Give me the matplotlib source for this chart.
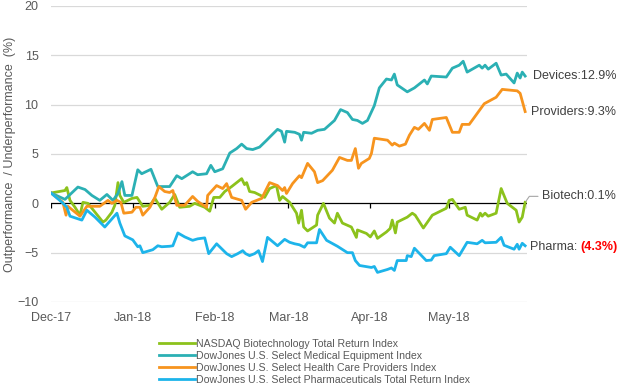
import numpy as np
import pandas as pd
import matplotlib
matplotlib.use("Agg")
import matplotlib.pyplot as plt

plt.rcParams['font.family'] = ['Liberation Sans', 'DejaVu Sans']

# days since 2017-12-01
biotech_days = [0, 5.3, 6, 7.2, 9.1, 11, 12.1, 14, 16.7, 19.7, 20.8, 23.1, 24.2, 25.4, 26.1, 27.6,
                30.7, 32.6, 34.8, 37.5, 39.4, 42, 45, 46.9, 48.8, 52.6, 54.5, 58.3, 60.2, 61.7,
                64, 65.9, 68.5, 70.4, 72.3, 73.4, 74.2, 75.3, 77.2, 81, 82.9, 85.5, 86.7, 87.8,
                90.5, 93.1, 93.9, 95, 95.8, 97.3, 100.7, 101.1, 103.3, 105.6, 107.5, 108.6,
                110.5, 113.9, 115.8, 116.2, 119.6, 121.1, 122.6, 123.8, 127.2, 128.6, 129.4,
                130.6, 131.3, 135.1, 137, 138.1, 141.2, 144.6, 149.9, 151, 152.2, 154.8, 157.1,
                157.8, 161.6, 162.8, 163.5, 164.6, 165.8, 168.8, 170.7, 173, 176.4, 177.5,
                178.7, 179.8]
biotech = [1.05, 1.3, 1.6, 0.3, -0.4, -1.2, 0.1, 0, -0.9, -1.9, -1.7, -0.9, -0.2, 2.1, 0.8, 0.1,
           0.5, 0.6, -0.3, -0.2, 0.5, -0.6, 0.1, 0.9, -0.4, -0.3, 0, -0.4, -0.8, 0.6,
           0.6, 1.2, 1.7, 2.1, 2.5, 1.9, 2.1, 1.2, 1.1, 0.6, 1.5, 1.8, 0.3, 0.7,
           0.1, -1.0, -2.0, -0.7, -2.4, -2.8, -2.2, -1.2, 0, -1.5, -2.0, -1.0,
           -2.0, -2.4, -3.45, -2.7, -3.05, -3.4, -2.8, -3.55, -2.9, -2.55, -1.7,
           -3.0, -1.9, -1.4, -1.0, -1.2, -2.5, -1.2, -0.5, 0.3, 0.4, -0.6, -0.4,
           -1.2, -1.7, -1.0, -1.3, -1.0, -1.3, -1.0, 1.5, 0, -0.7, -1.9,
           -1.4, 0.1]

devices_days = [0, 5.3, 10.2, 12.9, 15.5, 18.5, 21.2, 23.5, 25.4, 26.9, 28, 30.7, 32.9, 34.4,
                37.9, 40.5, 45, 47.7, 49.6, 53.7, 55.6, 59, 60.6, 62.1, 65.1, 67.8, 70.4, 72.3,
                74.2, 76.5, 79.1, 81.8, 82.9, 85.9, 87.4, 88.6, 89.3, 92.4, 94.2, 95, 95.8,
                98.8, 101.1, 103.7, 107.5, 109.8, 112.4, 114.3, 116.2, 118.1, 120, 122.6,
                124.5, 127.2, 129.1, 130.2, 131.3, 135.1, 137.8, 141.6, 142.7, 144.2, 149.9,
                152.2, 154.8, 156.3, 157.8, 162.4, 163.5, 164.6, 165.8, 168.8, 170.7, 172.6,
                175.6, 176.8, 177.9, 178.7, 179.8]
devices = [1.05, 0.4, 1.65, 1.4, 0.8, 0.3, 0.9, 0.3, 1.0, 2.2, 0.8, 0.8, 3.4, 3.0,
           3.45, 1.7, 1.7, 2.8, 2.5, 3.2, 2.9, 3.0, 3.85, 3.2, 3.5, 5.1, 5.55, 6.0,
           5.55, 5.45, 5.7, 6.4, 6.7, 7.5, 7.3, 6.2, 7.3, 7.2, 7.0, 6.4, 7.2,
           7.1, 7.4, 7.5, 8.4, 9.5, 9.2, 8.5, 8.4, 8.1, 8.4, 9.9,
           11.7, 12.6, 12.5, 13.1, 12.0, 11.3, 11.7, 12.5, 12.1, 12.9, 12.8,
           13.7, 14.0, 14.4, 13.3, 14.0, 13.7, 14.0, 13.6, 14.2, 13.0, 13.1,
           12.2, 13.2, 12.7, 13.3, 12.9]

providers_days = [0, 4.5, 5.7, 6.4, 11, 13.6, 18.5, 21.6, 23.1, 25, 26.5, 27.6, 30.7, 32.2,
                  33.7, 34.8, 37.5, 39.4, 40.9, 43.1, 45, 46.2, 47.7, 50.7, 53.7, 55.6, 59,
                  59.4, 62.8, 65.1, 66.6, 68.5, 72.3, 73.8, 76.1, 79.9, 82.9, 85.9, 87.8,
                  88.6, 89.3, 91.6, 94.2, 95, 97.3, 99.9, 101.1, 103, 106.7, 109.4, 112.4,
                  113.9, 115.4, 116.6, 117.7, 120.7, 121.5, 122.6, 127.6, 129.4, 130.2,
                  132.1, 134.4, 135.9, 137.8, 139.3, 141.6, 143.5, 144.6, 149.9, 152.2,
                  154.8, 155.9, 158.6, 162.4, 164.3, 168.8, 171.1, 176.8, 177.9, 179.8]
providers = [1.05, 0.1, -1.2, -0.3, -1.3, -0.3, -0.3, 0.3, 0, 0.3, 0.1, -1.0, -0.9, -0.4,
             -0.4, -1.2, -0.4, 0.6, 1.7, 1.2, 1.1, 1.3, -0.2, -0.2, 0.7, 0.2, -0.4,
             0.8, 1.8, 1.5, 2.0, 0.6, 0.3, -0.6, 0.1, 0.5, 2.1, 1.8, 1.3,
             1.6, 1.0, 2.0, 2.8, 2.6, 4.05, 3.2, 2.1, 2.3, 3.35, 4.65, 4.35,
             4.35, 5.55, 3.55, 4.05, 4.55, 5.05, 6.6, 6.4, 5.9, 6.1,
             5.8, 6.0, 6.9, 7.7, 7.5, 8.1, 7.4, 8.5, 8.7, 7.2,
             7.2, 8.0, 8.0, 9.4, 10.1, 10.75, 11.55, 11.4, 11.15, 9.3]

pharma_days = [0, 4.2, 6, 7.2, 11.7, 13.6, 16.7, 20.4, 25, 26.1, 28, 31, 32.9, 33.7, 34.8,
               38.6, 40.5, 42, 45, 46.2, 48.1, 50.7, 53.7, 55.6, 58.3, 59.8, 62.8, 66.6,
               68.5, 70.8, 72.7, 73.8, 75.3, 77.2, 78.7, 80.2, 82.1, 85.9, 88.6, 90.5,
               92.4, 94.2, 96.1, 97.3, 100.7, 101.8, 104.5, 108.6, 112.4, 114.3, 115.4,
               117, 121.5, 122.6, 123.8, 127.6, 129.1, 130.2, 131.3, 134.7, 135.1, 136.6,
               137.8, 142.3, 144.2, 145.3, 149.9, 151.4, 154.8, 157.8, 161.6, 163.5, 164.6,
               168.8, 170.7, 171.8, 175.6, 176.8, 177.5, 178.7, 179.8]
pharma = [1.05, 0.1, -0.4, -1.3, -1.7, -0.7, -1.4, -2.4, -1.0, -2.0, -3.3, -3.7, -4.4, -4.3, -5.0,
          -4.7, -4.3, -4.4, -4.35, -4.3, -3.0, -3.4, -3.75, -3.6, -3.5, -5.1, -4.1, -5.1,
          -5.4, -5.1, -4.8, -5.1, -5.3, -5.1, -4.8, -5.9, -3.45, -4.3, -3.65, -3.95,
          -4.1, -4.2, -4.45, -4.0, -4.0, -2.65, -3.75, -4.35, -5.0, -5.0, -5.8,
          -6.3, -6.5, -6.4, -7.0, -6.7, -6.55, -6.8, -5.8, -5.8, -5.3, -5.4,
          -4.55, -5.8, -5.75, -5.3, -5.1, -4.45, -5.3, -3.95, -4.1, -3.75, -4.0,
          -3.95, -3.45, -4.25, -4.65, -4.15, -4.65, -4.05, -4.3]

names = ["NASDAQ Biotechnology Total Return Index",
         "DowJones U.S. Select Medical Equipment Index",
         "DowJones U.S. Select Health Care Providers Index",
         "DowJones U.S. Select Pharmaceuticals Total Return Index"]
colors = ["#8CC21C", "#2BB0B4", "#F7941E", "#1DB4EA"]

start = pd.Timestamp("2017-12-01")


def to_dates(days):
    return start + pd.to_timedelta(np.array(days), unit="D")


fig = plt.figure(figsize=(6.2, 3.88), dpi=100)
ax = fig.add_axes([51 / 620, 1 - 302 / 388, 476 / 620, 296 / 388])

series = [(biotech_days, biotech), (devices_days, devices),
          (providers_days, providers), (pharma_days, pharma)]
lines = []
for (d, v), name, c in zip(series, names, colors):
    ln, = ax.plot(to_dates(d), v, color=c, lw=2.0, label=name, solid_joinstyle="round")
    lines.append(ln)

ax.set_ylim(-10, 20)
ax.set_yticks(np.arange(-10, 21, 5))
ax.set_xlim(start, start + pd.Timedelta(days=180.5))
for y in [-10, -5, 5, 10, 15, 20]:
    ax.axhline(y, color="#D9D9D9", lw=0.9, zorder=0)
ax.axhline(0, color="black", lw=0.9, zorder=1)

month_ticks = pd.date_range("2017-12-01", "2018-05-01", freq="MS")
ax.set_xticks(month_ticks)
ax.set_xticklabels([t.strftime("%b-%y") for t in month_ticks])
tick_marks = list(month_ticks) + [start + pd.Timedelta(days=180.5)]
ax.vlines(tick_marks, -0.45, 0, color="black", lw=0.9, zorder=1)

for s in ax.spines.values():
    s.set_visible(False)
ax.tick_params(axis="both", length=0, labelsize=9, labelcolor="#595959")
ax.tick_params(axis="y", pad=9)
ax.tick_params(axis="x", pad=7)
ax.set_ylabel("Outperformance  / Underperformance  (%)", fontsize=9, color="#595959")
ax.yaxis.set_label_coords(-0.074, 0.5)

end = start + pd.Timedelta(days=179.8)
lab = dict(fontsize=9, color="#404040", va="center", ha="left", textcoords="offset pixels")
ax.annotate("Devices:12.9%", xy=(end, devices[-1]), xytext=(8, 0), **lab)
ax.annotate("Providers:9.3%", xy=(end, providers[-1]), xytext=(6, 0), **lab)
ax.annotate("Biotech:0.1%", xy=(end, biotech[-1]), xytext=(17, 6), **lab,
            arrowprops=dict(arrowstyle="-", color="#A6A6A6", lw=0.8, shrinkA=1, shrinkB=1,
                            connectionstyle="angle,angleA=0,angleB=55,rad=0"))
ax.annotate("Pharma: ", xy=(end, pharma[-1]), xytext=(5, -1), **lab)
ax.annotate("(4.3%)", xy=(end, pharma[-1]), xytext=(55, -1), fontsize=9, color="#FF0000",
            fontweight="bold", va="center", ha="left", textcoords="offset pixels")

fig.legend(handles=lines, loc="upper left", bbox_to_anchor=(159 / 620, 1 - 339 / 388),
           frameon=False, fontsize=7.6, labelcolor="#595959", handlelength=3.4,
           handletextpad=0.1, labelspacing=0.18, borderaxespad=0, borderpad=0)

fig.savefig("out.png", dpi=100)
